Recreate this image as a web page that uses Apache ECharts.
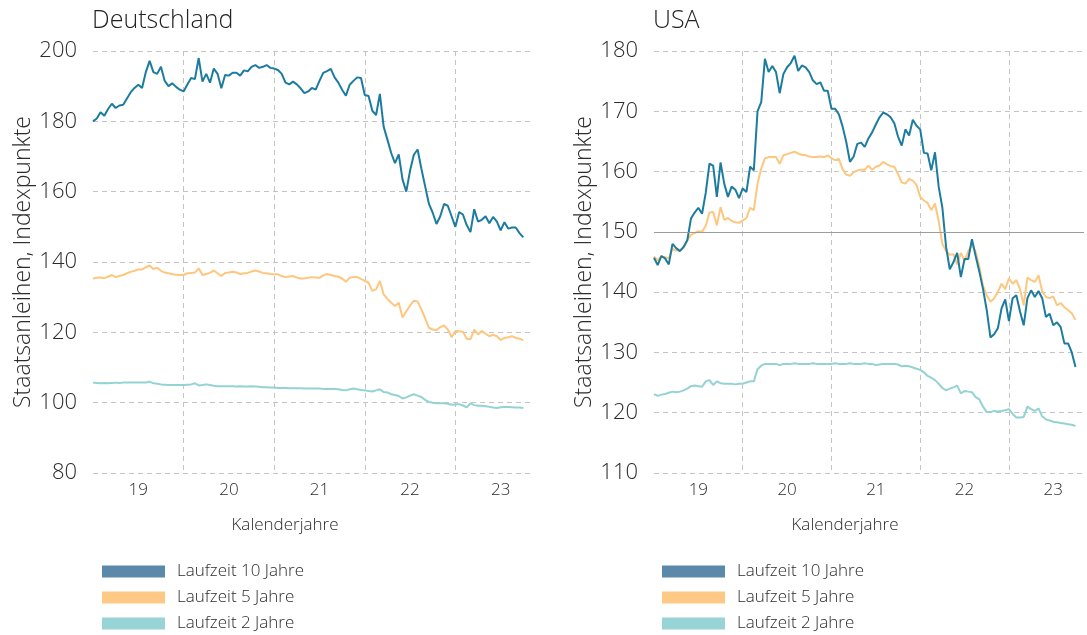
<!DOCTYPE html>
<html>
<head>
<meta charset="utf-8">
<script src="https://cdn.jsdelivr.net/npm/echarts@6/dist/echarts.min.js"></script>
<style>
html,body{margin:0;padding:0;background:#fff;}
#chart{width:1087px;height:635px;}
</style>
</head>
<body>
<div id="chart"></div>
<script>
// ---- data (semi-monthly observations starting Jan 2019) ----
const startYear = 2019;
const stepsPerYear = 24;
const yearLabels = ['19', '20', '21', '22', '23'];
const seriesNames = ['Laufzeit 10 Jahre', 'Laufzeit 5 Jahre', 'Laufzeit 2 Jahre'];
const panelTitles = ['Deutschland', 'USA'];
const yAxisTitle = 'Staatsanleihen, Indexpunkte';
const xAxisTitle = 'Kalenderjahre';

const de10 = [180.0,180.8,182.6,181.6,183.5,185.0,183.8,184.5,184.7,186.5,188.3,189.5,
190.4,189.5,194.0,197.2,194.0,193.5,195.5,191.5,190.0,190.8,189.8,189.0,
188.5,190.5,192.3,192.0,198.0,191.3,193.5,191.0,195.0,193.5,189.4,193.2,
193.0,193.8,193.8,193.0,194.5,194.2,195.5,196.0,195.2,195.5,196.0,195.2,
195.0,194.6,193.5,191.0,190.5,191.3,190.5,189.4,188.0,188.5,189.5,189.0,
191.5,193.8,194.3,194.9,192.5,191.0,189.0,187.3,190.4,191.5,192.5,192.3,
187.5,187.2,183.0,181.8,187.8,178.5,174.8,171.0,168.1,170.6,163.5,160.0,
166.0,170.5,172.0,166.5,161.5,156.5,154.0,150.8,153.0,156.5,156.0,153.0,
150.0,154.2,153.5,150.5,148.5,155.0,151.5,152.0,153.0,151.0,152.8,151.5,
149.0,151.3,149.5,149.8,149.8,148.2,147.0];

const de5 = [135.3,135.5,135.6,135.4,135.8,136.3,135.7,136.0,136.3,136.8,137.2,137.5,
137.9,137.9,138.5,139.0,138.0,138.4,137.5,137.0,136.8,136.5,136.4,136.3,
136.3,136.8,136.9,137.0,138.2,136.3,136.6,136.9,137.6,136.8,136.0,136.9,
137.0,137.2,137.0,136.6,136.8,136.9,137.3,137.6,137.3,136.9,136.8,136.6,
136.5,136.5,136.0,135.7,135.9,136.0,135.6,135.3,135.3,135.5,135.7,135.6,
135.5,136.2,136.6,136.3,136.0,135.8,135.3,134.4,135.5,135.7,135.7,135.2,
134.6,134.1,131.8,132.2,134.6,130.8,129.5,128.4,127.5,128.4,124.2,126.0,
127.6,129.0,128.8,126.5,124.0,121.3,120.8,120.6,121.5,122.0,120.8,118.6,
120.4,120.3,120.2,118.2,118.0,120.8,119.4,120.4,119.6,118.9,119.3,118.9,
117.8,118.4,118.6,118.9,118.4,118.2,117.7];

const de2 = [105.7,105.6,105.5,105.6,105.5,105.6,105.7,105.6,105.7,105.7,105.7,105.7,
105.7,105.7,105.7,106.0,105.5,105.4,105.2,105.1,105.0,105.0,105.0,105.0,
105.0,105.1,105.2,105.5,104.9,105.0,105.2,105.0,104.8,104.7,104.7,104.7,
104.7,104.7,104.6,104.7,104.6,104.6,104.7,104.6,104.5,104.4,104.4,104.3,
104.3,104.2,104.2,104.2,104.1,104.1,104.1,104.1,104.0,104.0,104.0,104.0,
104.0,103.9,103.9,103.9,103.9,103.8,103.6,103.5,103.8,104.0,103.8,103.6,
103.5,103.3,103.2,103.5,103.8,103.0,102.9,102.4,102.2,101.9,101.2,101.5,
102.0,102.4,102.0,101.6,100.8,100.2,100.0,99.8,99.8,99.8,99.7,99.4,
99.5,99.6,99.2,98.7,99.8,99.3,99.1,99.1,99.0,98.8,98.6,98.5,
98.7,98.8,98.8,98.7,98.6,98.6,98.5];

const us10 = [145.7,144.5,146.0,145.6,144.6,148.0,147.3,146.8,147.5,148.6,152.2,153.2,
154.0,153.0,156.5,161.3,161.0,155.8,161.5,158.0,155.8,157.5,157.0,155.6,
157.2,156.6,160.8,160.2,170.0,171.5,178.7,176.5,177.5,176.5,173.0,176.2,
177.3,178.0,179.2,176.7,177.6,177.3,176.5,175.1,174.5,174.8,173.4,173.4,
170.4,170.4,169.5,167.5,164.9,161.6,162.5,164.6,164.8,164.1,165.5,166.5,
167.8,169.0,169.8,169.5,169.0,168.0,165.8,164.3,167.0,166.0,168.6,167.6,
167.0,163.1,163.0,160.2,163.2,157.5,154.0,147.5,143.8,145.0,146.5,142.5,
145.5,145.5,148.8,146.0,143.4,140.5,137.0,132.5,133.0,134.0,137.3,138.8,
135.2,139.0,139.5,136.8,134.5,139.0,140.3,139.2,140.2,139.0,135.9,136.4,
134.5,135.0,134.2,131.5,131.5,130.0,127.6];

const us5 = [145.9,145.3,145.9,145.8,145.6,147.2,146.9,147.0,147.3,148.6,149.5,149.8,
150.1,150.0,151.0,153.2,153.3,151.1,154.1,152.0,152.3,151.8,151.6,151.5,
151.9,152.3,154.0,153.6,158.0,160.5,162.2,162.4,162.4,162.4,161.3,162.7,
162.9,163.1,163.3,163.0,162.8,162.7,162.5,162.4,162.4,162.5,162.4,162.7,
162.2,161.9,162.1,160.4,159.5,159.3,159.9,160.2,160.3,160.3,161.0,160.3,
160.8,161.0,161.6,161.2,160.9,160.8,159.6,158.2,158.0,158.8,158.5,157.8,
155.8,155.2,154.8,153.6,154.7,151.8,148.0,146.8,146.2,146.3,144.6,146.5,
145.2,146.8,147.8,146.7,144.2,141.0,139.5,138.4,139.0,140.0,141.4,140.5,
142.3,141.4,142.0,140.5,137.8,142.4,142.0,141.7,142.8,140.1,139.2,139.0,
139.3,137.8,138.2,137.5,137.0,136.5,135.4];

const us2 = [123.1,122.8,123.0,123.1,123.3,123.5,123.4,123.5,123.7,124.0,124.4,124.5,
124.4,124.3,125.2,125.4,124.6,125.2,124.9,124.8,124.8,124.8,124.7,124.8,
124.8,125.0,125.2,125.2,127.2,127.8,128.1,128.1,128.1,128.1,127.9,128.1,
128.1,128.1,128.2,128.1,128.1,128.1,128.1,128.2,128.1,128.1,128.1,128.1,
128.1,128.2,128.1,128.1,128.1,128.2,128.1,128.1,128.1,128.2,128.1,128.1,
127.9,128.0,128.1,128.1,128.1,128.1,128.0,127.7,127.8,127.7,127.5,127.3,
127.1,126.7,126.1,125.8,125.4,124.8,124.1,123.7,124.0,124.2,124.5,123.2,
123.6,123.5,123.4,122.6,122.2,121.0,120.1,120.1,120.3,120.2,120.3,120.4,
120.6,119.8,119.2,119.2,119.3,121.0,120.6,120.3,120.7,119.4,118.9,118.7,
118.5,118.4,118.3,118.2,118.1,118.0,117.8];

const usReference = 150;

// ---- styling ----
const FONT = "'Open Sans', 'Noto Sans', sans-serif";
const TXT = '#2b2b2b';
const GRID = '#c4c4c4';
const lineColors = ['#1c7c9f', '#fec77f', '#94d3d4'];
const legendColors = ['#5b89aa', '#fec985', '#98d4d5'];
const xMax = 2023.846;

function toPairs(arr) { return arr.map((v, i) => [startYear + i / stepsPerYear, v]); }

const grids = [
  { left: 93, top: 51, width: 439, height: 422 },
  { left: 654, top: 51, width: 439, height: 422 }
];

function xAxesFor(g) {
  return [
    {
      gridIndex: g, type: 'value', min: startYear, max: xMax, interval: 1,
      axisLine: { show: false }, axisTick: { show: false }, axisLabel: { show: false },
      splitLine: { show: true, showMinLine: false, showMaxLine: false,
        lineStyle: { type: [5, 4], color: GRID, width: 1 } }
    },
    {
      gridIndex: g, type: 'value', min: startYear, max: xMax, interval: 0.5, position: 'bottom',
      axisLine: { show: false }, axisTick: { show: false }, splitLine: { show: false },
      axisLabel: {
        margin: 9, fontSize: 17, color: TXT, fontFamily: FONT, fontWeight: 300,
        showMinLabel: true, showMaxLabel: true,
        formatter: function (v) {
          const frac = v - Math.floor(v);
          if (Math.abs(frac - 0.5) < 1e-6) {
            const idx = Math.floor(v) - startYear;
            return yearLabels[idx] || '';
          }
          return '';
        }
      }
    }
  ];
}

function yAxisFor(g, min, max, interval) {
  return {
    gridIndex: g, type: 'value', min: min, max: max, interval: interval,
    axisLine: { show: false }, axisTick: { show: false },
    axisLabel: { margin: 16, fontSize: 22, color: TXT, fontFamily: FONT, fontWeight: 300 },
    splitLine: { show: true, lineStyle: { type: [5, 4], color: GRID, width: 1 } },
    name: yAxisTitle, nameLocation: 'middle', nameGap: 57,
    nameTextStyle: { fontSize: 23, color: TXT, fontFamily: FONT, fontWeight: 300 }
  };
}

function lineSeries(name, data, g, colorIdx, z, extra) {
  return Object.assign({
    name: name, type: 'line', xAxisIndex: g * 2, yAxisIndex: g,
    data: toPairs(data), showSymbol: false, symbol: 'none', smooth: false,
    z: z, animation: false,
    lineStyle: { width: 2, color: lineColors[colorIdx] },
    itemStyle: { color: lineColors[colorIdx] }
  }, extra || {});
}

const legendData = seriesNames.map((n, i) => ({ name: n, itemStyle: { color: legendColors[i] } }));
function legendAt(left) {
  return {
    left: left, top: 563, orient: 'vertical', padding: 0,
    itemWidth: 63, itemHeight: 12, itemGap: 9, icon: 'rect', selectedMode: false,
    data: legendData,
    textStyle: { fontSize: 17, color: TXT, fontFamily: FONT, fontWeight: 300, lineHeight: 17, padding: [0, 0, 0, 7] }
  };
}

const chart = echarts.init(document.getElementById('chart'), null, { renderer: 'canvas' });
chart.setOption({
  backgroundColor: '#ffffff',
  animation: false,
  textStyle: { fontFamily: FONT },
  grid: grids,
  xAxis: xAxesFor(0).concat(xAxesFor(1)),
  yAxis: [yAxisFor(0, 80, 200, 20), yAxisFor(1, 110, 180, 10)],
  legend: [legendAt(102), legendAt(662)],
  graphic: [
    { type: 'text', left: 92, top: 8, style: { text: panelTitles[0], font: "300 25px 'Open Sans', sans-serif", fill: '#222' } },
    { type: 'text', left: 653, top: 8, style: { text: panelTitles[1], font: "300 25px 'Open Sans', sans-serif", fill: '#222' } },
    { type: 'text', x: 285, y: 525, style: { text: xAxisTitle, font: "300 17px 'Open Sans', sans-serif", fill: TXT, textAlign: 'center', textVerticalAlign: 'middle' } },
    { type: 'text', x: 845, y: 525, style: { text: xAxisTitle, font: "300 17px 'Open Sans', sans-serif", fill: TXT, textAlign: 'center', textVerticalAlign: 'middle' } }
  ],
  series: [
    lineSeries(seriesNames[0], de10, 0, 0, 4),
    lineSeries(seriesNames[1], de5, 0, 1, 3),
    lineSeries(seriesNames[2], de2, 0, 2, 2),
    lineSeries(seriesNames[0], us10, 1, 0, 4),
    lineSeries(seriesNames[1], us5, 1, 1, 3, {
      markLine: {
        silent: true, symbol: ['none', 'none'], animation: false,
        label: { show: false },
        lineStyle: { type: 'solid', color: '#9c9c9c', width: 1 },
        data: [{ yAxis: usReference }]
      }
    }),
    lineSeries(seriesNames[2], us2, 1, 2, 2)
  ]
});
</script>
</body>
</html>
